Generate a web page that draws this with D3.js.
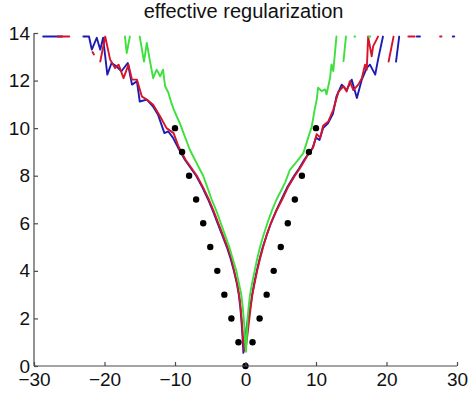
<!DOCTYPE html>
<html>
<head>
<meta charset="utf-8">
<script src="https://cdn.jsdelivr.net/npm/d3@7"></script>
<style>
  html, body { margin: 0; padding: 0; background: #fff; }
  svg { display: block; font-family: "Liberation Sans", Arial, sans-serif; }
</style>
</head>
<body>
<svg id="chart" width="472" height="398"></svg>
<script>
// ---- data ----
const chartTitle = "effective regularization";
const xTicks = [-30, -20, -10, 0, 10, 20, 30];
const yTicks = [0, 2, 4, 6, 8, 10, 12, 14];

// reference dots (y = |x|)
const dotX = [-10, -9, -8, -7, -6, -5, -4, -3, -2, -1, 0, 1, 2, 3, 4, 5, 6, 7, 8, 9, 10];
const dotY = [10, 9, 8, 7, 6, 5, 4, 3, 2, 1, 0, 1, 2, 3, 4, 5, 6, 7, 8, 9, 10];

// blue series (null = gap)
const blueX = [-28.7, -26.0, null,
  -23.0, -22.2, -21.8, -21.1, -20.6, -20.2, -19.6, -19.0, -18.3, -17.6, -16.7, -16.1, -15.4, -15.0, -14.0, -13.1, -12.4, -11.5, -10.95, -10.3, -9.6, -9.2, -8.6, -7.6, -7.0, -6.1, -5.3, -4.6, -3.95, -3.3, -2.65, -2.1, -1.65, -1.25, -0.95, -0.75, -0.6, -0.48, -0.38, -0.3, -0.1, 0.1, 0.35, 0.7, 0.95, 1.25, 1.6, 2.0, 2.45, 3.0, 3.6, 4.3, 5.1, 5.9, 6.9, 7.6, 8.4, 9.0, 9.5, 10.0, 10.5, 11.0, 11.7, 12.4, 12.9, 13.65, 14.35, 15.06, 15.8, 16.5, 17.2, 17.65, 18.4, 18.8, 19.5, null,
  21.35, 21.8, null,
  24.3, 24.75, null,
  29.4, 29.6];
const blueY = [13.85, 13.85, null,
  13.85, 13.85, 13.3, 13.8, 13.3, 13.8, 12.25, 12.74, 12.6, 12.39, 12.74, 11.83, 11.97, 11.12, 11.2, 10.9, 10.56, 9.79, 9.86, 9.6, 9.2, 9.0, 8.67, 8.25, 8.0, 7.5, 7.0, 6.5, 6.0, 5.5, 5.0, 4.5, 4.0, 3.5, 3.0, 2.5, 2.0, 1.5, 1.0, 0.55, 0.9, 1.5, 2.0, 2.5, 3.0, 3.5, 4.0, 4.5, 5.0, 5.5, 6.0, 6.5, 7.0, 7.5, 8.0, 8.3, 8.7, 8.95, 9.15, 9.6, 9.5, 10.0, 10.2, 10.6, 11.33, 11.83, 11.6, 12.04, 11.27, 12.04, 12.53, 12.67, 12.25, 12.88, 13.85, null,
  12.8, 13.85, null,
  13.85, 13.85, null,
  13.85, 13.85];

// red series
const redX = [-26.6, -25.0, null,
  -21.7, -21.5, null,
  -20.6, -19.9, -19.2, -18.5, -18.0, -17.3, -16.6, -16.1, -15.4, -14.7, -14.0, -13.1, -12.1, -11.2, -10.2, -9.5, -9.1, -8.5, -7.5, -6.9, -6.0, -5.2, -4.5, -3.85, -3.2, -2.55, -2.0, -1.6, -1.2, -0.9, -0.7, -0.55, -0.42, -0.3, -0.18, 0.1, 0.35, 0.55, 0.75, 0.97, 1.3, 1.65, 2.05, 2.5, 3.0, 3.6, 4.35, 5.2, 6.0, 7.0, 7.7, 8.5, 9.0, 9.6, 10.1, 10.6, 11.0, 11.75, 12.45, 13.2, 13.9, 14.35, 14.8, 15.3, 16.0, 16.5, 16.95, 17.2, 17.4, 17.9, 18.1, 18.8, null,
  20.3, 21.0, null,
  23.1, 24.0, null,
  27.6, 27.8];
const redY = [13.85, 13.85, null,
  13.2, 13.1, null,
  12.8, 13.85, 12.88, 12.53, 12.67, 12.1, 12.67, 12.04, 12.04, 11.33, 11.2, 10.98, 10.49, 10.0, 9.79, 9.23, 9.0, 8.67, 8.25, 8.0, 7.5, 7.0, 6.5, 6.0, 5.5, 5.0, 4.5, 4.0, 3.5, 3.0, 2.5, 2.0, 1.5, 1.0, 0.65, 0.9, 1.5, 2.0, 2.5, 3.0, 3.5, 4.0, 4.5, 5.0, 5.5, 6.0, 6.5, 7.0, 7.5, 8.0, 8.3, 8.7, 8.95, 9.2, 9.75, 9.6, 10.1, 10.28, 10.77, 11.54, 11.76, 11.54, 11.97, 11.6, 11.83, 12.1, 12.67, 12.46, 13.85, 13.02, 13.44, 13.85, null,
  12.8, 13.85, null,
  13.85, 13.85, null,
  13.85, 13.85];

// green series
const greenX = [-17.1, -16.85, -16.4, null,
  -15.0, -14.4, -14.0, -13.5, -13.1, -12.6, -12.1, -11.7, -11.4, -10.95, -10.5, -10.2, -9.76, -9.3, -8.8, -7.9, -6.45, -6.0, -5.4, -4.8, -4.1, -3.5, -2.9, -2.3, -1.8, -1.3, -0.95, -0.6, -0.4, -0.25, -0.12, -0.05, 0.07, 0.15, 0.22, 0.3, 0.45, 0.64, 0.95, 1.3, 1.65, 2.06, 2.55, 3.1, 3.7, 4.4, 5.1, 5.6, 6.3, 7.3, 8.2, 8.9, 9.4, 9.86, 10.1, 10.3, 10.8, 11.3, 11.5, 12.0, 12.2, 12.45, 12.9, null,
  13.9, 14.25, null,
  15.45, 15.55, null,
  17.5, 17.7];
const greenY = [13.85, 13.16, 13.85, null,
  13.85, 12.8, 13.58, 12.74, 12.1, 12.46, 12.18, 12.46, 11.76, 11.5, 11.05, 10.8, 10.5, 10.2, 9.8, 9.09, 8.25, 8.0, 7.5, 7.0, 6.5, 6.0, 5.5, 5.0, 4.5, 4.0, 3.5, 3.0, 2.5, 2.0, 1.5, 1.0, 0.6, 1.0, 1.5, 2.0, 2.5, 3.0, 3.5, 4.0, 4.5, 5.0, 5.5, 6.0, 6.5, 7.0, 7.4, 7.7, 8.25, 8.6, 8.95, 9.6, 10.07, 10.86, 11.2, 11.7, 11.56, 11.63, 11.42, 12.12, 12.68, 12.4, 13.85, null,
  12.82, 13.85, null,
  13.85, 13.85, null,
  13.85, 13.85];

const seriesList = [
  { name: "blue", xs: blueX, ys: blueY, color: "#1c1cb4" },
  { name: "red", xs: redX, ys: redY, color: "#d4152b" },
  { name: "green", xs: greenX, ys: greenY, color: "#3ee03e" }
];

// ---- drawing ----
const W = 472, H = 398;
const margin = { left: 34, right: 15, top: 33, bottom: 32 };
const svg = d3.select("#chart");

const x = d3.scaleLinear().domain([-30, 30]).range([margin.left, W - margin.right]);
const y = d3.scaleLinear().domain([0, 14]).range([H - margin.bottom, margin.top]);

svg.append("defs").append("clipPath").attr("id", "plotclip")
  .append("rect")
  .attr("x", margin.left).attr("y", margin.top - 2)
  .attr("width", W - margin.left - margin.right)
  .attr("height", H - margin.top - margin.bottom + 2);

const plot = svg.append("g").attr("clip-path", "url(#plotclip)");

const line = d3.line()
  .defined(d => d[0] !== null && d[1] !== null)
  .x(d => x(d[0]))
  .y(d => y(d[1]));

seriesList.forEach(s => {
  const pts = s.xs.map((v, i) => [v, s.ys[i]]);
  plot.append("path")
    .datum(pts)
    .attr("fill", "none")
    .attr("stroke", s.color)
    .attr("stroke-width", 1.9)
    .attr("stroke-linejoin", "round")
    .attr("stroke-linecap", "round")
    .attr("d", line);
});

svg.append("g").selectAll("circle")
  .data(dotX.map((v, i) => [v, dotY[i]]))
  .join("circle")
  .attr("cx", d => x(d[0]))
  .attr("cy", d => y(d[1]))
  .attr("r", 3.2)
  .attr("fill", "#000");

// axes
const xAxis = d3.axisBottom(x).tickValues(xTicks).tickSize(-4).tickPadding(7).tickFormat(d3.format("d"));
const yAxis = d3.axisLeft(y).tickValues(yTicks).tickSize(-4).tickPadding(4).tickFormat(d3.format("d"));

const gx = svg.append("g").attr("transform", `translate(0,${H - margin.bottom})`).call(xAxis);
const gy = svg.append("g").attr("transform", `translate(${margin.left},0)`).call(yAxis);

[gx, gy].forEach(g => {
  g.select(".domain").attr("stroke", "#4a4a4a").attr("stroke-width", 1.2);
  g.selectAll(".tick line").attr("stroke", "#4a4a4a").attr("stroke-width", 1.2);
  g.selectAll(".tick text")
    .attr("fill", "#111")
    .style("font-family", "'Liberation Sans', Arial, sans-serif")
    .style("font-size", "19px");
});
gx.select(".domain").attr("d", `M${x(-30)},0H${x(30)}`);
gy.select(".domain").attr("d", `M0,${y(0)}V${y(14)}`);

svg.append("text")
  .attr("x", (x(-30) + x(30)) / 2 - 2)
  .attr("y", 18)
  .attr("text-anchor", "middle")
  .style("font-family", "'Liberation Sans', Arial, sans-serif")
  .style("font-size", "20px")
  .attr("fill", "#111")
  .text(chartTitle);
</script>
</body>
</html>
